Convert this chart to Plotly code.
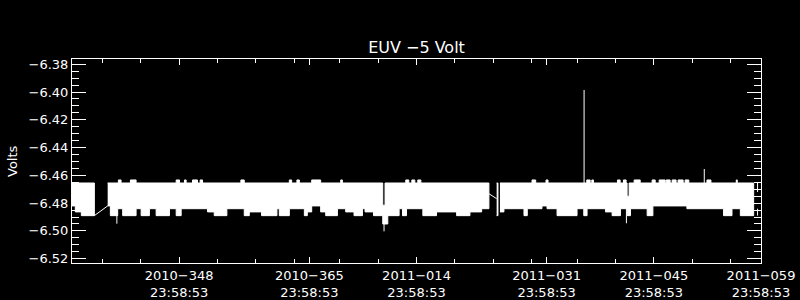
import pandas as pd
import plotly.graph_objects as go

START = pd.Timestamp("2010-11-30 23:58:53")   # 2010-334 23:58:53
END = pd.Timestamp("2011-02-28 23:58:53")     # 2011-059 23:58:53

# ---- quantised voltage levels seen in the telemetry band (Volts) ----
V_TOP = -6.4655
V_TOP_SPIKE = -6.4633
V_B0 = -6.4820
V_B1 = -6.4840
V_B2 = -6.4863
V_B3 = -6.4890

# ---- data blocks (days since START) ----
block_start = [0.00, 4.66, 55.47, 55.90]
block_end = [2.92, 54.46, 55.64, 89.04]

# ---- lower edge of the band: step breakpoints (day, volts) ----
low_day = [0.00, 0.43, 1.22,
           4.66, 5.01, 5.97, 6.62, 8.37, 9.03, 10.11, 10.99, 12.73, 13.61, 14.26,
           17.70, 18.58, 20.23, 22.50, 23.16, 24.76, 26.77, 27.08, 28.39, 30.35,
           30.74, 31.31, 32.48, 33.14, 34.67, 35.75, 36.84, 37.94, 38.28, 39.38,
           40.59, 41.25, 42.73, 43.17, 43.69, 45.83, 47.62, 50.24, 51.98, 53.51,
           55.47,
           55.90, 56.42, 59.04, 59.47, 61.39, 62.05, 63.36, 65.97, 66.85, 67.28,
           69.68, 70.55, 71.64, 72.51, 72.95, 75.13, 75.88, 78.36, 80.32, 85.11,
           86.21, 87.30]
low_volt = [V_B0, V_B2, V_B3,
            V_B0, V_B3, V_B1, V_B3, V_B1, V_B3, V_B1, V_B3, V_B1, V_B3, V_B1,
            V_B2, V_B3, V_B1, V_B3, V_B2, V_B3, V_B1, V_B3, V_B1, V_B3,
            V_B2, V_B0, V_B2, V_B3, V_B1, V_B2, V_B3, V_B1, V_B2, V_B3,
            -6.4950, V_B3, V_B1, V_B3, V_B1, V_B3, V_B2, V_B3, V_B2, V_B1,
            V_B3,
            V_B2, V_B1, V_B3, V_B1, V_B0, V_B1, V_B3, V_B1, V_B3, V_B1,
            V_B2, V_B3, V_B1, V_B3, V_B1, V_B3, V_B0, V_B0, V_B1, V_B3,
            V_B1, V_B3]

# ---- upper edge excursions: (start day, end day, volts) ----
hi_start = [6.06, 7.63, 13.61, 14.69, 15.74, 16.74, 22.06, 28.39, 29.38, 31.31,
            35.10, 40.59, 43.60, 44.39, 45.17,
            60.09, 61.92, 67.24, 67.90, 71.25, 72.03, 72.51, 73.43, 75.78, 76.70,
            77.61, 78.39, 79.17, 80.09, 82.94, 86.77]
hi_end = [6.41, 8.37, 14.04, 14.91, 16.39, 17.05, 22.50, 28.69, 29.70, 32.48,
          35.32, 40.89, 43.99, 44.78, 45.57,
          60.57, 62.18, 67.68, 68.11, 71.60, 72.38, 72.77, 74.22, 76.18, 77.48,
          78.13, 78.91, 79.83, 80.57, 83.46, 86.90]
hi_volt = [V_TOP_SPIKE] * 11 + [-6.4815] + [V_TOP_SPIKE] * 3 + \
          [V_TOP_SPIKE] * 6 + [-6.4750] + [V_TOP_SPIKE] * 9

# ---- isolated single-sample spikes: (day, from volts, to volts) ----
spike_day = [66.89, 82.59, 5.86, 72.42, 40.76, 89.55, 89.55]
spike_from = [V_TOP, V_TOP, V_B1, V_B1, -6.4950, V_TOP, V_B1]
spike_to = [-6.3985, -6.4554, -6.4948, -6.4945, -6.5003, -6.4720, V_B3]

# ---- lines bridging the data gaps ----
gap_day = [2.92, 4.66, None, 54.46, 55.47]
gap_volt = [V_B3, V_B0, None, -6.4732, -6.4768]

# ---- axis ticks ----
major_day = [14, 31, 45, 62, 76, 90]
major_label = ["2010\u2212348", "2010\u2212365", "2011\u2212014",
               "2011\u2212031", "2011\u2212045", "2011\u2212059"]
major_time = ["23:58:53"] * 6
minor_day = [4, 9, 19, 24, 29, 35, 40, 50, 55, 60, 66, 71, 81, 86]
y_ticks = [-6.52, -6.50, -6.48, -6.46, -6.44, -6.42, -6.40, -6.38]


def ts(d):
    if d is None:
        return None
    return (START + pd.to_timedelta(d, unit="D")).strftime("%Y-%m-%d %H:%M:%S.%f")


# build the band polygons from the envelope readings
poly_x, poly_y = [], []
for bs, be in zip(block_start, block_end):
    top = [(bs, V_TOP)]
    for s, e, v in sorted(zip(hi_start, hi_end, hi_volt)):
        if bs <= s < be:
            top += [(s, V_TOP), (s, v), (e, v), (e, V_TOP)]
    top.append((be, V_TOP))
    pts = [(d, v) for d, v in zip(low_day, low_volt) if bs <= d < be]
    bot = []
    for i, (d, v) in enumerate(pts):
        dn = pts[i + 1][0] if i + 1 < len(pts) else be
        bot += [(d, v), (dn, v)]
    path = top + bot[::-1]
    poly_x += [ts(p[0]) for p in path] + [None]
    poly_y += [p[1] for p in path] + [None]

spk_x, spk_y = [], []
for d, a, b in zip(spike_day, spike_from, spike_to):
    spk_x += [ts(d), ts(d), None]
    spk_y += [a, b, None]

fig = go.Figure()
fig.add_trace(go.Scatter(x=poly_x, y=poly_y, mode="lines", fill="toself",
                         fillcolor="white", line=dict(color="white", width=1),
                         hoverinfo="skip"))
fig.add_trace(go.Scatter(x=spk_x, y=spk_y, mode="lines",
                         line=dict(color="white", width=1), hoverinfo="skip"))
fig.add_trace(go.Scatter(x=[ts(d) for d in gap_day], y=gap_volt, mode="lines",
                         line=dict(color="white", width=1), hoverinfo="skip"))

axis_common = dict(showline=True, linecolor="white", linewidth=1,
                   mirror="allticks", ticks="inside", tickcolor="white",
                   tickwidth=1, showgrid=False, zeroline=False, automargin=False)

fig.update_xaxes(type="date", range=[ts(0), ts(90)],
                 tickvals=[ts(d) for d in major_day],
                 ticktext=[f"{a}<br>{b}" for a, b in zip(major_label, major_time)],
                 ticklen=6,
                 minor=dict(tickmode="array", tickvals=[ts(d) for d in minor_day],
                            ticks="inside", ticklen=4, tickcolor="white", tickwidth=1,
                            showgrid=False),
                 **axis_common)
fig.update_yaxes(range=[-6.5231, -6.3762], tickmode="array", tickvals=y_ticks,
                 tickformat=".2f", ticklen=14,
                 minor=dict(dtick=0.005, tick0=-6.52, ticks="inside", ticklen=7,
                            tickcolor="white", tickwidth=1, showgrid=False),
                 **axis_common)

fig.update_layout(
    width=800, height=300,
    margin=dict(l=72, r=39, t=59, b=37),
    paper_bgcolor="black", plot_bgcolor="black",
    font=dict(family="DejaVu Sans", color="white", size=13),
    showlegend=False,
    title=dict(text="EUV \u22125 Volt", x=0.5, xref="paper", y=1 - 47 / 300,
               yanchor="middle", xanchor="center",
               font=dict(size=16, color="white", family="DejaVu Sans")),
    annotations=[dict(text="Volts", textangle=-90, xref="paper", yref="paper",
                      x=(12 - 72) / 689, y=0.5, xanchor="center", yanchor="middle",
                      showarrow=False, font=dict(size=13, color="white"))],
)

fig.write_html("out.html")
